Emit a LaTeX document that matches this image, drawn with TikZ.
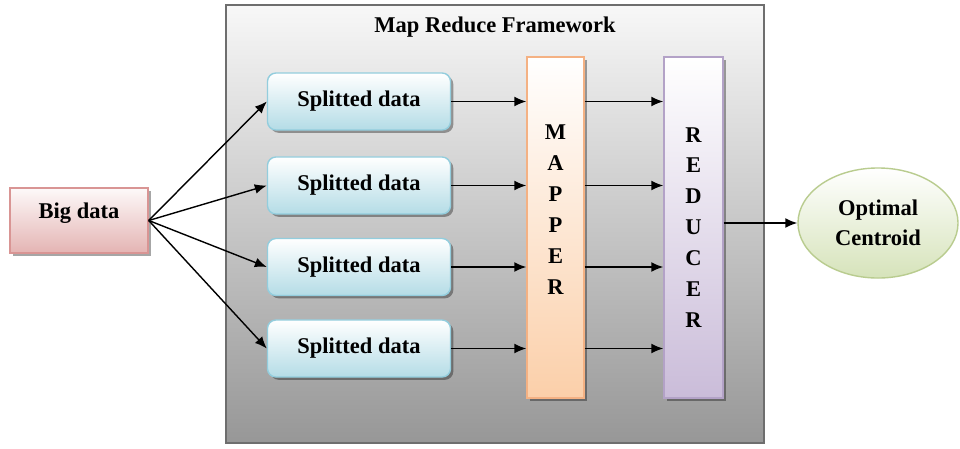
\documentclass[tikz,border=0pt]{standalone}
\usepackage{fontspec}
\setmainfont{Liberation Serif}
\usetikzlibrary{arrows.meta,shapes.geometric,shadows}
\definecolor{frameline}{HTML}{6E6E6E}
\definecolor{framebot}{HTML}{979797}
\definecolor{bigline}{HTML}{D99594}
\definecolor{bigbot}{HTML}{E4B4B3}
\definecolor{splitline}{HTML}{93CDDD}
\definecolor{splitbot}{HTML}{B4DCE6}
\definecolor{mapline}{HTML}{F4B183}
\definecolor{mapbot}{HTML}{FBCFA9}
\definecolor{redline}{HTML}{B3A2C7}
\definecolor{redbot}{HTML}{CABCD9}
\definecolor{optline}{HTML}{B9CC8F}
\definecolor{optbot}{HTML}{D6E3BA}
\tikzset{
  lbl/.style={font=\fontsize{16}{22}\selectfont\bfseries},
  boxshadow/.style={drop shadow={shadow xshift=2pt,shadow yshift=-2pt,fill=black,opacity=0.35}},
  splitbox/.style={lbl,draw=splitline,line width=1pt,top color=white,bottom color=splitbot,
    rounded corners=6pt,minimum width=4.575cm,minimum height=1.425cm,boxshadow},
  flow/.style={-{Latex[length=8.5pt,width=7pt]},line width=1pt},
}
\begin{document}
\begin{tikzpicture}[x=0.025cm,y=-0.025cm]
\useasboundingbox (0,0) rectangle (960,448);
\fill[white] (0,0) rectangle (960,448);
\node[draw=frameline,line width=1pt,top color=white!97!black,bottom color=framebot,
  minimum width=13.45cm,minimum height=10.95cm] (frame) at (495,224) {};
\node[lbl] (title) at (495,27) {Map Reduce Framework};
\node[lbl,draw=bigline,line width=1pt,top color=white!92!bigbot,bottom color=bigbot,
  minimum width=3.45cm,minimum height=1.625cm,text depth=0.5cm,boxshadow] (big) at (79,220.5) {Big data};
\node[splitbox] (split1) at (359,101.5) {Splitted data};
\node[splitbox] (split2) at (359,185.5) {Splitted data};
\node[splitbox] (split3) at (359,267) {Splitted data};
\node[splitbox] (split4) at (359,348.5) {Splitted data};
\node[draw=mapline,line width=1pt,top color=white,bottom color=mapbot,
  minimum width=1.425cm,minimum height=8.525cm,boxshadow,
  label={[lbl,align=center,yshift=0.44cm]center:M\\A\\P\\P\\E\\R}] (mapper) at (555.5,227.5) {};
\node[lbl,align=center,draw=redline,line width=1pt,top color=white,bottom color=redbot,
  minimum width=1.475cm,minimum height=8.525cm,boxshadow] (reducer) at (693.5,227.5) {R\\E\\D\\U\\C\\E\\R};
\node[lbl,align=center,ellipse,draw=optline,line width=1pt,top color=white,bottom color=optbot,
  minimum width=4cm,minimum height=2.75cm,font=\fontsize{16}{21}\selectfont\bfseries] (optimal) at (878,223) {Optimal\\Centroid};
\foreach \i in {1,...,4}{
  \draw[flow] (big.east) -- (split\i.west);
  \draw[flow] (split\i.east) -- (split\i.east -| mapper.west);
  \draw[flow] (split\i.east -| mapper.east) -- (split\i.east -| reducer.west);
}
\draw[flow] (reducer.east |- optimal.west) -- (optimal.west);
\end{tikzpicture}
\end{document}
